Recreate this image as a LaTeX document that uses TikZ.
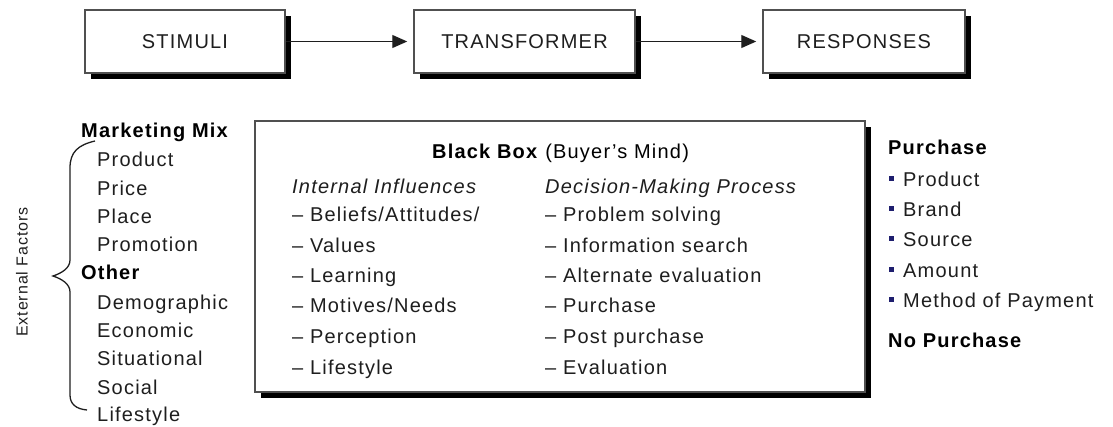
\documentclass[tikz,border=0pt]{standalone}
\usepackage{fontspec}
\setmainfont[LetterSpace=6]{Liberation Sans}
\usetikzlibrary{positioning,shadows,arrows.meta}
\definecolor{textcolor}{RGB}{30,30,30}
\definecolor{bordercolor}{RGB}{80,80,80}
\definecolor{bulletcolor}{RGB}{30,30,110}

\begin{document}
\begin{tikzpicture}[
    x=1pt, y=-1pt,
    font=\fontsize{20}{24}\selectfont,
    shadowbox/.style={rectangle, draw=bordercolor, line width=1.5pt, fill=white, text=textcolor, inner sep=0pt, drop shadow={shadow xshift=6pt, shadow yshift=-6pt, fill=black, opacity=1}},
    topbox/.style={shadowbox, minimum height=63pt},
    item/.style={anchor=base west, inner sep=0pt, text=textcolor},
    head/.style={item, font=\fontsize{20}{24}\selectfont\bfseries, text=black},
    subhead/.style={item, font=\fontsize{20}{24}\selectfont\itshape},
    bullet/.style={rectangle, fill=bulletcolor, minimum size=5pt, inner sep=0pt},
    arrow/.style={-{Triangle[length=15pt,width=13pt]}, line width=1.2pt, draw=textcolor, shorten >=6pt}
]
\useasboundingbox (0,0) rectangle (1113,426);

% Top row
\node[topbox, minimum width=200pt] (stimuli) at (185,41.5) {STIMULI};
\node[topbox, minimum width=221pt] (transformer) at (524.5,41.5) {TRANSFORMER};
\node[topbox, minimum width=202pt] (responses) at (864,41.5) {RESPONSES};

\draw[arrow] (stimuli) -- (transformer);
\draw[arrow] (transformer) -- (responses);

% External factors
\node[head] (mix) at (81,137) {Marketing Mix};
\node[item] (product) at (97,166) {Product};
\node[item] (price) at (97,195) {Price};
\node[item] (place) at (97,223) {Place};
\node[item] (promotion) at (97,251) {Promotion};
\node[head] (other) at (81,279) {Other};
\node[item] (demographic) at (97,309) {Demographic};
\node[item] (economic) at (97,337) {Economic};
\node[item] (situational) at (97,365) {Situational};
\node[item] (social) at (97,394) {Social};
\node[item] (lifestyle) at (97,421) {Lifestyle};

\coordinate (bracetop) at (95,141);
\coordinate (bracetip) at (53,276);
\coordinate (bracebot) at (87,410);
\draw[textcolor, line width=1.3pt] (bracetop) .. controls (78,145) and (70,152) .. (70,168) -- (70,260)
    .. controls (70,268) and (62,273) .. (bracetip) .. controls (62,279) and (70,284) .. (70,292)
    -- (70,395) .. controls (70,404) and (76,409) .. (bracebot);

\node[text=textcolor, rotate=90, font=\fontsize{16}{19}\selectfont] (external) at (22,272) {External Factors};

% Black box
\node[shadowbox, minimum width=610pt, minimum height=271pt] (blackbox) at (560,256.5) {};
\node[item, text=black] (title) at (432,158) {\textbf{Black Box} (Buyer's Mind)};

\node[subhead] (internal) at (292,193) {Internal Influences};
\node[item] (beliefs) at (292,221) {\textendash\ Beliefs/Attitudes/};
\node[item] (values) at (292,252) {\textendash\ Values};
\node[item] (learning) at (292,282) {\textendash\ Learning};
\node[item] (motives) at (292,312) {\textendash\ Motives/Needs};
\node[item] (perception) at (292,343) {\textendash\ Perception};
\node[item] (lifestyle2) at (292,374) {\textendash\ Lifestyle};

\node[subhead] (decision) at (545,193) {Decision-Making Process};
\node[item] (problem) at (545,221) {\textendash\ Problem solving};
\node[item] (search) at (545,252) {\textendash\ Information search};
\node[item] (alternate) at (545,282) {\textendash\ Alternate evaluation};
\node[item] (purchase2) at (545,312) {\textendash\ Purchase};
\node[item] (post) at (545,343) {\textendash\ Post purchase};
\node[item] (evaluation) at (545,374) {\textendash\ Evaluation};

% Responses
\node[head] (purchase) at (888,154) {Purchase};
\node[bullet] (b1) at (891,178) {};
\node[item] (rproduct) at (903,186) {Product};
\node[bullet] (b2) at (891,208) {};
\node[item] (brand) at (903,216) {Brand};
\node[bullet] (b3) at (891,238) {};
\node[item] (source) at (903,246) {Source};
\node[bullet] (b4) at (891,269) {};
\node[item] (amount) at (903,277) {Amount};
\node[bullet] (b5) at (891,299) {};
\node[item] (payment) at (903,307) {Method of Payment};
\node[head] (nopurchase) at (888,347) {No Purchase};

\end{tikzpicture}
\end{document}
